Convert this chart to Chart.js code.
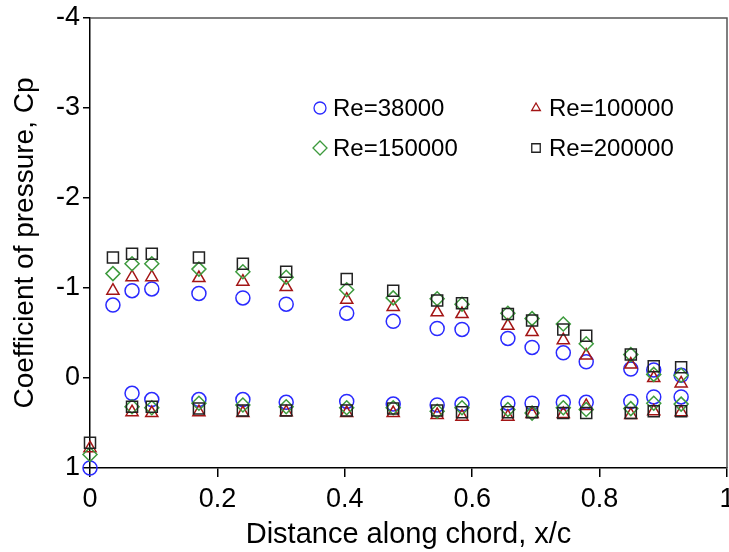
<!DOCTYPE html>
<html>
<head>
<meta charset="utf-8">
<script src="https://cdn.jsdelivr.net/npm/chart.js@4/dist/chart.umd.min.js"></script>
<style>
  html, body { margin: 0; padding: 0; background: #fff; }
  #wrap { width: 729px; height: 552px; }
</style>
</head>
<body>
<div id="wrap"><canvas id="cpChart" width="729" height="552"></canvas></div>
<script>
// tap positions along the chord
const xUpper = [0, 0.036, 0.066, 0.097, 0.171, 0.24, 0.308, 0.403, 0.476, 0.545, 0.584, 0.656, 0.694, 0.743, 0.779, 0.849, 0.885, 0.928];
const xLower = [0.066, 0.097, 0.171, 0.24, 0.308, 0.403, 0.476, 0.545, 0.584, 0.656, 0.694, 0.743, 0.779, 0.849, 0.885, 0.928];

const reLabels = ['Re=38000', 'Re=100000', 'Re=150000', 'Re=200000'];

// Cp, upper surface
const upper38k  = [1.0, -0.81, -0.97, -0.99, -0.94, -0.89, -0.82, -0.72, -0.63, -0.55, -0.54, -0.44, -0.34, -0.28, -0.18, -0.10, -0.09, -0.03];
const upper100k = [0.78, -0.97, -1.12, -1.12, -1.11, -1.07, -1.01, -0.87, -0.79, -0.73, -0.71, -0.58, -0.51, -0.42, -0.25, -0.15, 0.0, 0.06];
const upper150k = [0.85, -1.16, -1.27, -1.27, -1.21, -1.18, -1.12, -0.98, -0.89, -0.88, -0.82, -0.72, -0.66, -0.60, -0.38, -0.26, -0.04, -0.03];
const upper200k = [0.72, -1.34, -1.38, -1.38, -1.34, -1.27, -1.18, -1.10, -0.97, -0.86, -0.83, -0.71, -0.64, -0.54, -0.47, -0.26, -0.13, -0.12];

// Cp, lower surface
const lower38k  = [0.17, 0.24, 0.24, 0.24, 0.27, 0.26, 0.29, 0.30, 0.29, 0.28, 0.28, 0.27, 0.27, 0.26, 0.21, 0.21];
const lower100k = [0.38, 0.39, 0.38, 0.39, 0.38, 0.39, 0.39, 0.41, 0.43, 0.43, 0.40, 0.40, 0.31, 0.41, 0.37, 0.38];
const lower150k = [0.32, 0.33, 0.28, 0.30, 0.32, 0.33, 0.33, 0.37, 0.33, 0.35, 0.39, 0.33, 0.35, 0.34, 0.28, 0.29];
const lower200k = [0.32, 0.32, 0.34, 0.36, 0.36, 0.36, 0.34, 0.36, 0.38, 0.38, 0.38, 0.39, 0.39, 0.39, 0.37, 0.37];

const yTicks = [-4, -3, -2, -1, 0, 1];
const xTicks = [0, 0.2, 0.4, 0.6, 0.8, 1];

const toPoints = (up, low) =>
    xUpper.map((x, i) => ({ x: x, y: up[i] })).concat(xLower.map((x, i) => ({ x: x, y: low[i] })));

const styles = [
    { color: '#2a2aff', shape: 'circle',   radius: 7,   legendRadius: 6 },
    { color: '#a31515', shape: 'triangle', radius: 7,   legendRadius: 5 },
    { color: '#3d9a3d', shape: 'rectRot',  radius: 7,   legendRadius: 7 },
    { color: '#222222', shape: 'rect',     radius: 7.8, legendRadius: 6 }
];
const series = [
    toPoints(upper38k, lower38k),
    toPoints(upper100k, lower100k),
    toPoints(upper150k, lower150k),
    toPoints(upper200k, lower200k)
];

const datasets = series.map((pts, i) => ({
    label: reLabels[i],
    data: pts,
    showLine: false,
    clip: false,
    pointStyle: styles[i].shape,
    pointRadius: styles[i].radius,
    pointHoverRadius: styles[i].radius,
    pointBorderColor: styles[i].color,
    pointBackgroundColor: 'rgba(0,0,0,0)',
    pointBorderWidth: 1.5,
    order: 4 - i
}));

// frame + in-plot legend
const framePlugin = {
    id: 'frame',
    afterDatasetsDraw(chart) {
        const { ctx, chartArea: a } = chart;
        ctx.save();
        ctx.strokeStyle = '#555';
        ctx.lineWidth = 1.5;
        ctx.beginPath();
        ctx.moveTo(a.left, a.top);
        ctx.lineTo(a.right, a.top);
        ctx.lineTo(a.right, a.bottom);
        ctx.stroke();
        ctx.restore();
    },
    afterDraw(chart) {
        const { ctx, chartArea: a } = chart;
        const slots = [[230, 90], [446, 90], [230, 130], [446, 130]];
        ctx.save();
        ctx.font = '24px "Liberation Sans", Arial, sans-serif';
        ctx.textBaseline = 'middle';
        slots.forEach((s, i) => {
            const mx = a.left + s[0], my = a.top + s[1];
            ctx.strokeStyle = styles[i].color;
            ctx.fillStyle = 'rgba(0,0,0,0)';
            ctx.lineWidth = 1.3;
            Chart.helpers.drawPoint(ctx, { pointStyle: styles[i].shape, radius: styles[i].legendRadius, borderWidth: 1.3 }, mx, my);
            ctx.fillStyle = '#000';
            ctx.fillText(reLabels[i], mx + 13, my + 1);
        });
        ctx.restore();
    }
};

const tickFont = { family: '"Liberation Sans", Arial, sans-serif', size: 27 };
const titleFont = { family: '"Liberation Sans", Arial, sans-serif', size: 28 };

new Chart(document.getElementById('cpChart').getContext('2d'), {
    type: 'scatter',
    data: { datasets: datasets },
    plugins: [framePlugin],
    options: {
        responsive: false,
        animation: false,
        layout: { autoPadding: false, padding: { top: 18, right: 2, left: 0, bottom: 0 } },
        plugins: {
            legend: { display: false },
            tooltip: { enabled: false }
        },
        scales: {
            x: {
                type: 'linear',
                min: 0,
                max: 1,
                afterBuildTicks: axis => { axis.ticks = xTicks.map(v => ({ value: v })); },
                afterFit: axis => { axis.height = 84; axis.paddingLeft = 0; axis.paddingRight = 0; },
                grid: { drawOnChartArea: false, tickLength: 9, color: '#000', lineWidth: 1.5 },
                border: { color: '#000', width: 1.5 },
                ticks: { color: '#000', font: tickFont, padding: 6, callback: v => String(v) },
                title: { display: true, text: 'Distance along chord, x/c', color: '#000', font: { family: titleFont.family, size: 29 }, padding: { top: -4, bottom: 0 } }
            },
            y: {
                type: 'linear',
                reverse: true,
                min: -4,
                max: 1,
                afterBuildTicks: axis => { axis.ticks = yTicks.map(v => ({ value: v })); },
                afterFit: axis => { axis.width = 90; axis.paddingTop = 0; axis.paddingBottom = 0; },
                grid: { drawOnChartArea: false, tickLength: 7, color: '#000', lineWidth: 1.5 },
                border: { color: '#000', width: 1.5 },
                ticks: { color: '#000', font: tickFont, padding: 3, callback: v => String(v) },
                title: { display: true, text: 'Coefficient of pressure, Cp', color: '#000', font: titleFont, padding: { top: 8, bottom: 0 } }
            }
        }
    }
});
</script>
</body>
</html>
